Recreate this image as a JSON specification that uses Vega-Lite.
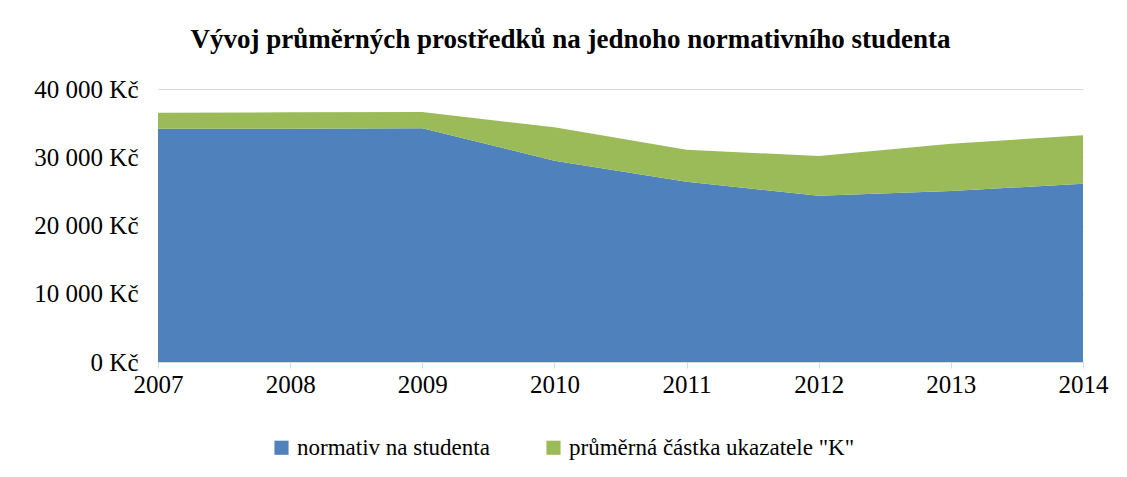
{
  "$schema": "https://vega.github.io/schema/vega-lite/v6.json",
  "autosize": "none",
  "padding": {"left": 158, "top": 89, "right": 44, "bottom": 115},
  "width": 925,
  "height": 273,
  "background": "white",
  "title": {
    "text": "Vývoj průměrných prostředků na jednoho normativního studenta",
    "font": "Liberation Serif",
    "fontSize": 27,
    "fontWeight": "bold",
    "color": "#000000",
    "anchor": "middle",
    "dx": -50,
    "offset": 23
  },
  "data": {
    "values": [
      {"rok": "2007", "serie": "normativ na studenta", "poradi": 1, "hodnota": 34180},
      {"rok": "2008", "serie": "normativ na studenta", "poradi": 1, "hodnota": 34180},
      {"rok": "2009", "serie": "normativ na studenta", "poradi": 1, "hodnota": 34240},
      {"rok": "2010", "serie": "normativ na studenta", "poradi": 1, "hodnota": 29490},
      {"rok": "2011", "serie": "normativ na studenta", "poradi": 1, "hodnota": 26400},
      {"rok": "2012", "serie": "normativ na studenta", "poradi": 1, "hodnota": 24370},
      {"rok": "2013", "serie": "normativ na studenta", "poradi": 1, "hodnota": 25050},
      {"rok": "2014", "serie": "normativ na studenta", "poradi": 1, "hodnota": 26120},
      {"rok": "2007", "serie": "průměrná částka ukazatele \"K\"", "poradi": 2, "hodnota": 2350},
      {"rok": "2008", "serie": "průměrná částka ukazatele \"K\"", "poradi": 2, "hodnota": 2400},
      {"rok": "2009", "serie": "průměrná částka ukazatele \"K\"", "poradi": 2, "hodnota": 2390},
      {"rok": "2010", "serie": "průměrná částka ukazatele \"K\"", "poradi": 2, "hodnota": 4900},
      {"rok": "2011", "serie": "průměrná částka ukazatele \"K\"", "poradi": 2, "hodnota": 4700},
      {"rok": "2012", "serie": "průměrná částka ukazatele \"K\"", "poradi": 2, "hodnota": 5810},
      {"rok": "2013", "serie": "průměrná částka ukazatele \"K\"", "poradi": 2, "hodnota": 6940},
      {"rok": "2014", "serie": "průměrná částka ukazatele \"K\"", "poradi": 2, "hodnota": 7090}
    ]
  },
  "mark": {"type": "area", "opacity": 1},
  "encoding": {
    "x": {
      "field": "rok",
      "type": "ordinal",
      "scale": {"type": "point", "padding": 0},
      "axis": {
        "title": null,
        "labelAngle": 0,
        "labelFont": "Liberation Serif",
        "labelFontSize": 25,
        "labelColor": "#000000",
        "labelPadding": 4,
        "domainColor": "#d9d9d9",
        "tickColor": "#d9d9d9",
        "tickSize": 6,
        "grid": false
      }
    },
    "y": {
      "field": "hodnota",
      "type": "quantitative",
      "stack": "zero",
      "scale": {"domain": [0, 40000], "nice": false},
      "axis": {
        "title": null,
        "values": [0, 10000, 20000, 30000, 40000],
        "labelExpr": "replace(format(datum.value, ',d'), regexp(',', 'g'), ' ') + ' Kč'",
        "labelFont": "Liberation Serif",
        "labelFontSize": 25,
        "labelColor": "#000000",
        "labelPadding": 20,
        "domain": false,
        "ticks": false,
        "gridColor": "#d9d9d9",
        "gridWidth": 1
      }
    },
    "color": {
      "field": "serie",
      "type": "nominal",
      "scale": {
        "domain": ["normativ na studenta", "průměrná částka ukazatele \"K\""],
        "range": ["#4F81BD", "#9BBB59"]
      },
      "legend": {
        "title": null,
        "orient": "none",
        "legendX": 112,
        "legendY": 347,
        "direction": "horizontal",
        "symbolType": "square",
        "symbolSize": 200,
        "symbolStrokeWidth": 0,
        "labelFont": "Liberation Serif",
        "labelFontSize": 23,
        "labelColor": "#000000",
        "labelOffset": 4,
        "columnPadding": 52,
        "labelLimit": 400
      }
    },
    "order": {"field": "poradi", "type": "quantitative"}
  },
  "config": {
    "font": "Liberation Serif",
    "view": {"stroke": null},
    "legend": {"labelFont": "Liberation Serif"}
  }
}
